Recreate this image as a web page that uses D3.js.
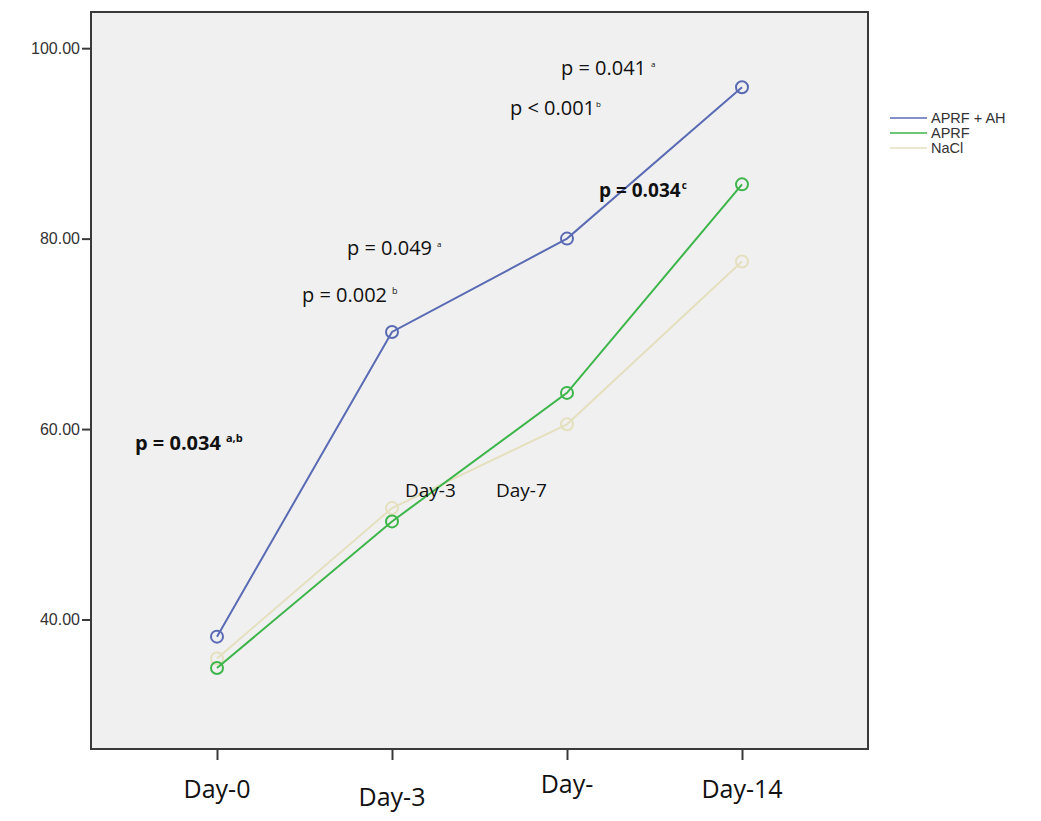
<!DOCTYPE html>
<html>
<head>
<meta charset="utf-8">
<script src="https://cdn.jsdelivr.net/npm/d3@7"></script>
<style>
  body { margin: 0; background: #fff; }
  svg { display: block; }
  .ytick text { font-family: "Liberation Sans", Arial, sans-serif; font-size: 16px; fill: #333; }
  .note { font-family: "Open Sans", sans-serif; fill: #111; }
</style>
</head>
<body>
<svg id="chart" width="1041" height="821"></svg>
<script>
// data
var days = ['Day-0', 'Day-3', 'Day-7', 'Day-14'];
var dayLabels = ['Day-0', 'Day-3', 'Day-', 'Day-14'];
var aprfAh = [38.2, 70.2, 80.0, 95.9];
var aprf = [34.9, 50.3, 63.8, 85.7];
var nacl = [35.9, 51.7, 60.5, 77.6];
var yTicks = [40, 60, 80, 100];

var seriesNames = ['APRF + AH', 'APRF', 'NaCl'];
var seriesColors = ['#5a6bb4', '#3db54a', '#e4e0bf'];
var seriesValues = [aprfAh, aprf, nacl];

var svg = d3.select('#chart');

var frame = { left: 91, top: 12, right: 868, bottom: 749 };

var x = d3.scalePoint()
  .domain(days)
  .range([frame.left, frame.right])
  .padding(0.72);

var y = d3.scaleLinear()
  .domain([26.4, 103.8])
  .range([frame.bottom, frame.top]);

// plot background
svg.append('rect')
  .attr('x', frame.left)
  .attr('y', frame.top)
  .attr('width', frame.right - frame.left)
  .attr('height', frame.bottom - frame.top)
  .attr('fill', '#f0f0f0')
  .attr('stroke', '#3a3a3a')
  .attr('stroke-width', 2);

// y axis
var yAxis = svg.append('g')
  .attr('class', 'ytick')
  .attr('transform', 'translate(' + frame.left + ',0)')
  .call(d3.axisLeft(y).tickValues(yTicks).tickFormat(d3.format('.2f')).tickSize(9).tickPadding(2));
yAxis.select('.domain').remove();
yAxis.selectAll('line').attr('stroke', '#3a3a3a').attr('stroke-width', 2);

// x axis ticks
var xAxis = svg.append('g')
  .attr('transform', 'translate(0,' + frame.bottom + ')')
  .call(d3.axisBottom(x).tickSize(11).tickFormat(''));
xAxis.select('.domain').remove();
xAxis.selectAll('line').attr('stroke', '#3a3a3a').attr('stroke-width', 2);

// x labels sit a bit uneven in the original
var labelDy = [49, 57, 44, 49];
svg.append('g').selectAll('text')
  .data(days)
  .join('text')
  .attr('class', 'note')
  .attr('x', function(d) { return x(d); })
  .attr('y', function(d, i) { return frame.bottom + labelDy[i]; })
  .attr('text-anchor', 'middle')
  .attr('font-size', 25)
  .text(function(d, i) { return dayLabels[i]; });

// lines + circles, drawn back to front
var line = d3.line()
  .x(function(d, i) { return x(days[i]); })
  .y(function(d) { return y(d); });

[2, 1, 0].forEach(function(k) {
  var g = svg.append('g');
  g.append('path')
    .datum(seriesValues[k])
    .attr('d', line)
    .attr('fill', 'none')
    .attr('stroke', seriesColors[k])
    .attr('stroke-width', 2);
  g.selectAll('circle')
    .data(seriesValues[k])
    .join('circle')
    .attr('cx', function(d, i) { return x(days[i]); })
    .attr('cy', function(d) { return y(d); })
    .attr('r', 6)
    .attr('fill', 'none')
    .attr('stroke', seriesColors[k])
    .attr('stroke-width', 2);
});

// p-value annotations
var notes = [
  { x: 135, y: 450, text: 'p = 0.034', sup: 'a,b', supSize: 11, dx: 5, bold: true, size: 20 },
  { x: 347, y: 255, text: 'p = 0.049', sup: 'a', supSize: 8, dx: 5, bold: false, size: 20 },
  { x: 302, y: 302, text: 'p = 0.002', sup: 'b', supSize: 9, dx: 5, bold: false, size: 20 },
  { x: 561, y: 75, text: 'p = 0.041', sup: 'a', supSize: 8, dx: 5, bold: false, size: 20 },
  { x: 510, y: 115, text: 'p < 0.001', sup: 'b', supSize: 8, dx: 1, bold: false, size: 20 },
  { x: 599, y: 197, text: 'p = 0.034', sup: 'c', supSize: 10, dx: 1, bold: true, size: 19 },
  { x: 405, y: 497, text: 'Day-3', sup: '', bold: false, size: 19 },
  { x: 496, y: 497, text: 'Day-7', sup: '', bold: false, size: 19 }
];

notes.forEach(function(n) {
  var t = svg.append('text')
    .attr('class', 'note')
    .attr('x', n.x)
    .attr('y', n.y)
    .attr('font-size', n.size)
    .attr('font-weight', n.bold ? 700 : 400);
  t.append('tspan').text(n.text);
  if(n.sup) {
    t.append('tspan')
      .attr('dy', -8)
      .attr('dx', n.dx)
      .attr('font-size', n.supSize)
      .text(n.sup);
  }
});

// legend
var legend = svg.append('g')
  .attr('transform', 'translate(890,118)');
seriesNames.forEach(function(name, i) {
  legend.append('line')
    .attr('x1', 0).attr('x2', 37)
    .attr('y1', i * 15).attr('y2', i * 15)
    .attr('stroke', seriesColors[i])
    .attr('stroke-width', 1.5);
  legend.append('text')
    .attr('x', 41)
    .attr('y', i * 15 + 5)
    .attr('font-family', '"Liberation Sans", Arial, sans-serif')
    .attr('font-size', 14.5)
    .attr('fill', '#333')
    .text(name);
});
</script>
</body>
</html>
